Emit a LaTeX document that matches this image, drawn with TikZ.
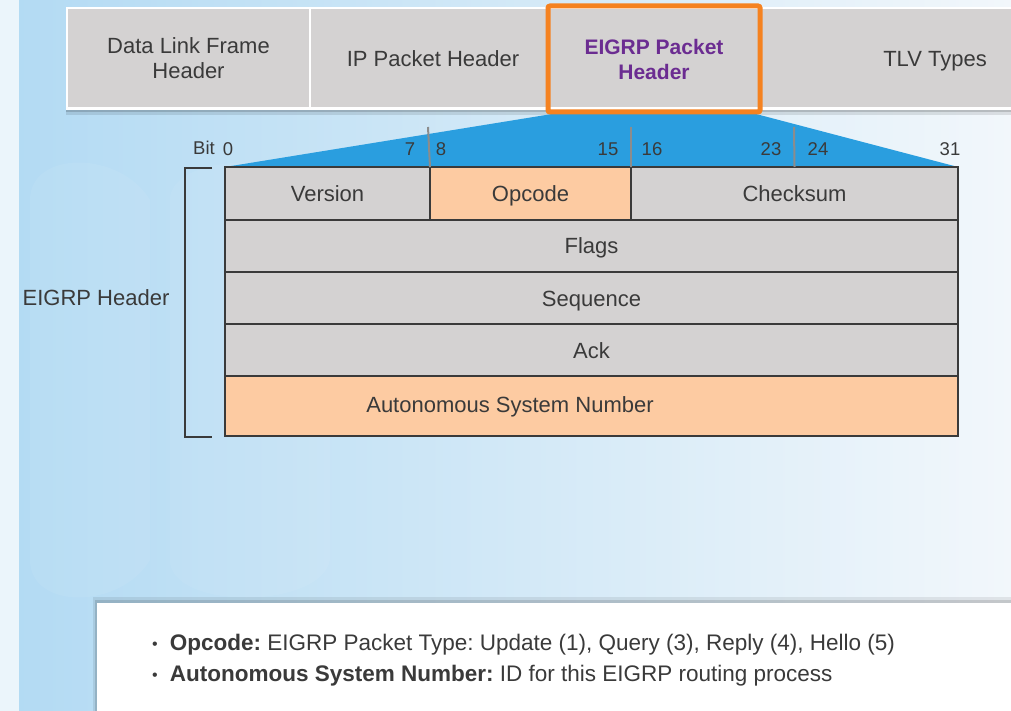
\documentclass[tikz,border=0pt]{standalone}
\usepackage{fontspec}
\setmainfont{Liberation Sans}
\usetikzlibrary{calc}
\definecolor{bgL}{HTML}{B2DAF3}
\definecolor{bgR}{HTML}{F2F7FB}
\definecolor{cellgray}{HTML}{D4D2D2}
\definecolor{peach}{HTML}{FDCBA2}
\definecolor{edge}{HTML}{3A3A3A}
\definecolor{txt}{HTML}{3A3A3A}
\definecolor{fanblue}{HTML}{2A9EDF}
\definecolor{hlorange}{HTML}{F58220}
\definecolor{purp}{HTML}{6B2C91}
\definecolor{tick}{HTML}{8C8C8C}
\tikzset{
  barcell/.style={fill=cellgray, draw=none, inner sep=0pt, outer sep=0pt, anchor=north west,
    text=txt, align=center, font=\fontsize{22}{25}\selectfont},
  cell/.style={draw=edge, line width=2.5pt, inner sep=0pt, outer sep=0pt, anchor=north west,
    text=txt, text height=16pt, text depth=0pt, font=\fontsize{22}{25}\selectfont},
  lbl/.style={text=txt, inner sep=0pt, font=\fontsize{22}{25}\selectfont},
  bitlbl/.style={text=txt, inner sep=0pt, font=\fontsize{18.5}{20}\selectfont},
  bitsep/.style={draw=tick, line width=2pt},
  bullet/.style={text=txt, inner sep=0pt, anchor=west, font=\fontsize{22.5}{26}\selectfont}
}
\frenchspacing
\begin{document}
\begin{tikzpicture}[x=1pt,y=-1pt]
\useasboundingbox (0,0) rectangle (1011,711);
% background
\shade[left color=bgL, right color=bgR] (0,0) rectangle (1011,711);
\fill[white, opacity=0.75] (0,0) rectangle (19,711);
\fill[white, opacity=0.06] (170,200) .. controls (170,150) and (320,150) .. (330,200) -- (330,560) .. controls (320,610) and (170,610) .. (170,560) -- cycle;
\fill[white, opacity=0.06] (30,200) .. controls (30,150) and (120,150) .. (150,200) -- (150,560) .. controls (120,610) and (30,610) .. (30,560) -- cycle;
% top bar shadow and outline
\fill[black, opacity=0.10] (66,108) rectangle (1011,115);
\fill[black, opacity=0.15] (66,108) rectangle (1011,112);
\fill[white] (66,7) rectangle (1011,110);
% top bar cells
\node[barcell, minimum width=241, minimum height=98] (dl) at (68,9) {Data Link Frame\\Header};
\node[barcell, minimum width=237, minimum height=98] (ip) at (311,9) {};
\node[lbl] (ipl) at (433,59) {IP Packet Header};
\node[barcell, minimum width=211, minimum height=98] (eh) at (549,9) {};
\node[barcell, minimum width=251, minimum height=98] (tlv) at (761,9) {};
\node[lbl] (tlvl) at (935,61) {TLV Types};
% blue fan
\fill[fanblue] (552,114) -- (756,114) -- (958,167) -- (225,167) -- cycle;
% highlight box
\draw[hlorange, line width=5pt, rounded corners=2pt] ($(eh.north west)+(-1,-3)$) rectangle ($(eh.south east)+(0,5)$);
\node[text=purp, align=center, font=\bfseries\fontsize{21}{25}\selectfont, inner sep=0pt] (ehl) at (654,59) {EIGRP Packet\\Header};
% bit numbers
\node[bitlbl] (bitw) at (204,148) {Bit};
\node[bitlbl] (b0) at (228,149) {0};
\node[bitlbl] (b7) at (410,149) {7};
\node[bitlbl] (b8) at (441,149) {8};
\node[bitlbl] (b15) at (608,149) {15};
\node[bitlbl] (b16) at (652,149) {16};
\node[bitlbl] (b23) at (771,149) {23};
\node[bitlbl] (b24) at (818,149) {24};
\node[bitlbl] (b31) at (950,149) {31};
\coordinate (t1) at (428,127); \coordinate (t2) at (631,127); \coordinate (t3) at (794,127);
% packet cells
\node[cell, fill=cellgray, minimum width=205, minimum height=53] (ver) at (225,167) {Version};
\node[cell, fill=peach, minimum width=201, minimum height=53] (opc) at (430,167) {Opcode};
\node[cell, fill=cellgray, minimum width=327, minimum height=53] (chk) at (631,167) {Checksum};
\node[cell, fill=cellgray, minimum width=733, minimum height=52] (flg) at (225,220) {Flags};
\node[cell, fill=cellgray, minimum width=733, minimum height=52] (seq) at (225,272) {Sequence};
\node[cell, fill=cellgray, minimum width=733, minimum height=52] (ack) at (225,324) {Ack};
\node[cell, fill=peach, minimum width=733, minimum height=60] (asn) at (225,376) {};
\node[lbl] (asnl) at (510,407) {Autonomous System Number};
\draw[bitsep] (t1) -- (ver.north east);
\draw[bitsep] (t2) -- (opc.north east);
\draw[bitsep] (t3) -- (chk.north);
% bracket
\coordinate (bt) at (212,168); \coordinate (bb) at (212,437);
\draw[edge, line width=2pt] (bt) -| (185,437) -- (bb);
\node[lbl] (hdr) at (96,298) {EIGRP Header};
% bottom info box
\fill[black, opacity=0.08] (93,597) rectangle (1011,711);
\fill[black, opacity=0.12] (95,600) rectangle (1011,711);
\node[fill=white, inner sep=0pt, outer sep=0pt, anchor=north west, minimum width=915, minimum height=110] (info) at (97,603) {};
\node[bullet] (l1) at (152,645) {{\fontsize{16}{20}\selectfont\raisebox{1pt}{•}}\hspace{12pt}\textbf{Opcode:} EIGRP Packet Type: Update (1), Query (3), Reply (4), Hello (5)};
\node[bullet] (l2) at (152,676) {{\fontsize{16}{20}\selectfont\raisebox{1pt}{•}}\hspace{12pt}\textbf{Autonomous System Number:} ID for this EIGRP routing process};
\end{tikzpicture}
\end{document}
